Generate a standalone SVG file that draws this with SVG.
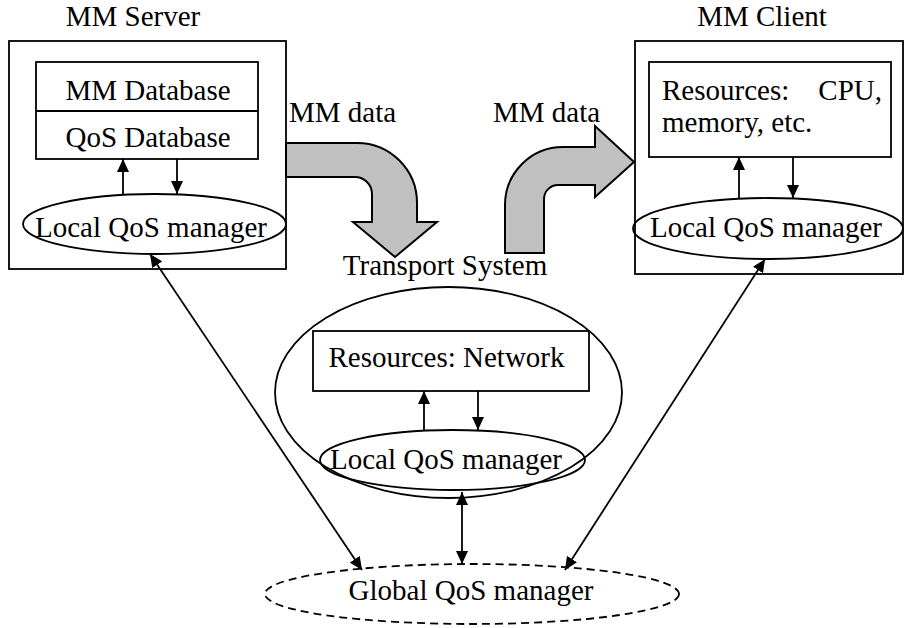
<svg xmlns="http://www.w3.org/2000/svg" width="904" height="628" viewBox="0 0 904 628">
<style>
text{font-family:"Liberation Serif","Times New Roman",serif;font-size:29px;fill:#000}
.box{fill:#fff;stroke:#000;stroke-width:1.8}
.ell{fill:none;stroke:#000;stroke-width:1.8}
.dash{fill:none;stroke:#000;stroke-width:1.8;stroke-dasharray:8,5}
.fat{fill:#c0c0c0;stroke:#000;stroke-width:2;stroke-linejoin:miter}
.con{fill:none;stroke:#000;stroke-width:1.8}
.mid{text-anchor:middle}
</style>
<defs>
<marker id="ah" markerUnits="userSpaceOnUse" markerWidth="14" markerHeight="12" refX="13" refY="6" orient="auto-start-reverse" viewBox="0 0 14 12">
<path d="M0,0 L13,6 L0,12 z" fill="#000"/>
</marker>
</defs>
<rect width="904" height="628" fill="#fff"/>

<g id="server">
<text x="133" y="26" class="mid">MM Server</text>
<rect class="box" x="9" y="41" width="277" height="228"/>
<rect class="box" x="36" y="62" width="222" height="97"/>
<line class="con" x1="36" y1="111" x2="258" y2="111"/>
<text x="148" y="100" class="mid">MM Database</text>
<text x="148" y="147" class="mid">QoS Database</text>
<ellipse class="ell" cx="154.5" cy="224" rx="131.5" ry="30"/>
<text x="151" y="237" class="mid">Local QoS manager</text>
</g>

<g id="client">
<text x="762" y="26" class="mid">MM Client</text>
<rect class="box" x="635" y="41" width="268" height="233"/>
<rect class="box" x="649" y="62" width="242" height="95"/>
<text x="662" y="100">Resources:<tspan x="882" text-anchor="end">CPU,</tspan></text>
<text x="662" y="132">memory, etc.</text>
<ellipse class="ell" cx="768" cy="228.5" rx="135" ry="30.5"/>
<text x="766" y="237" class="mid">Local QoS manager</text>
</g>

<g id="mmdata-out">
<text x="289" y="122">MM data</text>
<path class="fat" d="M286,143 L357,143 A60,60 0 0 1 417,203 L417,222 L437,222 L395,257 L353,222 L372,222 L372,194 A17,17 0 0 0 355,177 L286,177 Z"/>
</g>

<g id="mmdata-in">
<text x="493" y="122">MM data</text>
<path class="fat" d="M505,253 L505,205 A58,58 0 0 1 563,147 L595,147 L595,126 L634,162 L595,197 L595,185 L558,185 A14,14 0 0 0 544,199 L544,253 Z"/>
</g>

<g id="transport">
<text x="445" y="275" class="mid">Transport System</text>
<ellipse class="ell" cx="448.5" cy="392.5" rx="173.5" ry="105.5"/>
<rect class="box" x="313" y="331" width="276" height="60"/>
<text x="446.5" y="367" class="mid">Resources: Network</text>
<ellipse class="ell" cx="452.5" cy="460" rx="132.5" ry="30"/>
<text x="446" y="469" class="mid">Local QoS manager</text>
</g>

<g id="global">
<ellipse class="dash" cx="472" cy="594" rx="207" ry="30"/>
<text x="471" y="600" class="mid">Global QoS manager</text>
</g>

<g id="connectors">
<line class="con" x1="123" y1="194" x2="123" y2="159" marker-end="url(#ah)"/>
<line class="con" x1="177" y1="159" x2="177" y2="194" marker-end="url(#ah)"/>
<line class="con" x1="739" y1="198" x2="739" y2="157" marker-end="url(#ah)"/>
<line class="con" x1="793" y1="157" x2="793" y2="198" marker-end="url(#ah)"/>
<line class="con" x1="424" y1="430" x2="424" y2="391" marker-end="url(#ah)"/>
<line class="con" x1="478" y1="391" x2="478" y2="430" marker-end="url(#ah)"/>
<line class="con" x1="462" y1="492" x2="462" y2="564" marker-start="url(#ah)" marker-end="url(#ah)"/>
<line class="con" x1="150" y1="254" x2="362" y2="570" marker-start="url(#ah)" marker-end="url(#ah)"/>
<line class="con" x1="765" y1="259" x2="565" y2="570" marker-start="url(#ah)" marker-end="url(#ah)"/>
</g>
</svg>
